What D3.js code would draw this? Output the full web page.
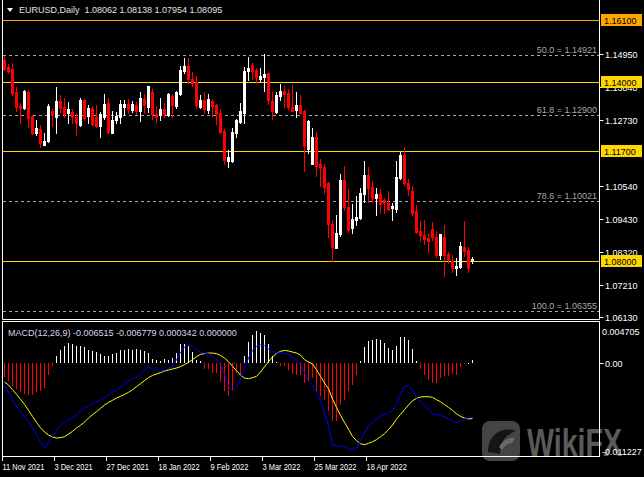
<!DOCTYPE html>
<html><head><meta charset="utf-8">
<script src="https://cdn.jsdelivr.net/npm/d3@7/dist/d3.min.js"></script>
<style>
html,body{margin:0;padding:0;background:#000;overflow:hidden}
svg{display:block}
text{font-family:"Liberation Sans",Arial,sans-serif}
</style></head><body>
<script>
// ---------- DATA ----------
const symbolTitle = "EURUSD,Daily  1.08062 1.08138 1.07954 1.08095";
const macdTitle = "MACD(12,26,9) -0.006515 -0.006779 0.000342 0.000000";

const open = [1.1475,1.1452,1.1445,1.1369,1.1322,1.1313,1.1369,1.1287,1.1231,1.1245,
1.1191,1.1205,1.1305,1.1285,1.1338,1.1318,1.1298,1.1302,1.1283,1.1257,
1.1341,1.1287,1.1315,1.1285,1.1254,1.1283,1.1332,1.1231,1.1274,1.1283,
1.1318,1.1328,1.1307,1.1324,1.1305,1.1343,1.1318,1.1369,1.1294,1.1291,
1.1311,1.1291,1.1354,1.1321,1.1361,1.1439,1.1455,1.1410,1.1402,1.1318,
1.1341,1.1307,1.1338,1.1324,1.1299,1.1238,1.1138,1.1138,1.1231,1.1268,
1.1298,1.1438,1.1458,1.1441,1.1411,1.1419,1.1430,1.1339,1.1302,1.1354,
1.1372,1.1363,1.1316,1.1307,1.1324,1.1305,1.1177,1.1126,1.1218,1.1126,
1.1117,1.1064,1.0926,1.0846,1.0893,1.1073,1.0981,1.0911,1.0939,1.0945,
1.1026,1.1090,1.1049,1.1012,1.1026,1.1006,1.0997,1.0978,1.0975,1.1079,
1.1157,1.1064,1.1036,1.0969,1.0902,1.0889,1.0878,1.0908,1.0883,1.0822,
1.0883,1.0824,1.0802,1.0779,1.0783,1.0847,1.0838,1.08062];
const high = [1.1488,1.1461,1.1464,1.1385,1.1330,1.1374,1.1371,1.1291,1.1274,1.1256,
1.1229,1.1326,1.1311,1.1384,1.1358,1.1347,1.1334,1.1311,1.1296,1.1347,
1.1344,1.1324,1.1321,1.1323,1.1302,1.1361,1.1349,1.1304,1.1302,1.1341,
1.1341,1.1343,1.1338,1.1334,1.1368,1.1361,1.1388,1.1377,1.1321,1.1347,
1.1330,1.1365,1.1361,1.1372,1.1455,1.1481,1.1481,1.1434,1.1421,1.1358,
1.1368,1.1361,1.1343,1.1327,1.1310,1.1244,1.1173,1.1246,1.1278,1.1330,
1.1450,1.1486,1.1464,1.1447,1.1448,1.1495,1.1432,1.1369,1.1369,1.1395,
1.1388,1.1377,1.1391,1.1369,1.1358,1.1307,1.1274,1.1247,1.1234,1.1142,
1.1126,1.1067,1.0938,1.0956,1.1093,1.1120,1.1042,1.0993,1.1019,1.1045,
1.1137,1.1118,1.1071,1.1045,1.1042,1.1012,1.1036,1.0997,1.1137,1.1168,
1.1182,1.1076,1.1053,1.0989,1.0937,1.0939,1.0892,1.0933,1.0902,1.0892,
1.0922,1.0833,1.0822,1.0812,1.0864,1.0936,1.0848,1.08138];
const low = [1.1441,1.1432,1.1358,1.1305,1.1263,1.1311,1.1249,1.1227,1.1224,1.1185,
1.1189,1.1201,1.1254,1.1231,1.1298,1.1285,1.1265,1.1263,1.1225,1.1254,
1.1274,1.1263,1.1257,1.1249,1.1218,1.1276,1.1231,1.1229,1.1263,1.1263,
1.1291,1.1298,1.1302,1.1294,1.1272,1.1298,1.1302,1.1276,1.1268,1.1274,
1.1283,1.1287,1.1283,1.1313,1.1358,1.1432,1.1397,1.1389,1.1313,1.1313,
1.1298,1.1298,1.1287,1.1261,1.1231,1.1126,1.1117,1.1134,1.1218,1.1265,
1.1265,1.1408,1.1410,1.1397,1.1406,1.1372,1.1328,1.1277,1.1298,1.1341,
1.1318,1.1310,1.1303,1.1285,1.1296,1.1104,1.1164,1.1125,1.1086,1.1053,
1.1028,1.0881,1.0803,1.0844,1.0885,1.0973,1.0900,1.0896,1.0922,1.0941,
1.1000,1.1000,1.1000,1.0956,1.0961,1.0963,1.0973,1.0939,1.0967,1.1075,
1.1056,1.1023,1.0956,1.0894,1.0869,1.0858,1.0833,1.0872,1.0814,1.0808,
1.0752,1.0794,1.0766,1.0755,1.0779,1.0818,1.0766,1.07954];
const close = [1.1444,1.1439,1.1365,1.1318,1.1314,1.1371,1.1280,1.1229,1.1247,1.1198,
1.1203,1.1321,1.1292,1.1338,1.1313,1.1294,1.1311,1.1283,1.1263,1.1341,
1.1281,1.1314,1.1261,1.1254,1.1294,1.1328,1.1234,1.1274,1.1287,1.1328,
1.1328,1.1312,1.1328,1.1305,1.1348,1.1324,1.1388,1.1294,1.1283,1.1311,
1.1294,1.1361,1.1324,1.1368,1.1441,1.1455,1.1410,1.1399,1.1324,1.1341,
1.1312,1.1343,1.1321,1.1296,1.1234,1.1140,1.1149,1.1235,1.1274,1.1304,
1.1438,1.1448,1.1438,1.1417,1.1421,1.1428,1.1341,1.1305,1.1358,1.1372,
1.1360,1.1316,1.1305,1.1324,1.1298,1.1187,1.1271,1.1218,1.1120,1.1117,
1.1051,1.0926,1.0850,1.0896,1.1073,1.0981,1.0905,1.0941,1.0948,1.1028,
1.1090,1.1045,1.1012,1.1026,1.0993,1.0995,1.0975,1.0986,1.1084,1.1157,
1.1062,1.1042,1.0961,1.0900,1.0889,1.0874,1.0870,1.0881,1.0822,1.0891,
1.0822,1.0807,1.0779,1.0786,1.0852,1.0836,1.0779,1.08095];

const macdMain = [-0.002676,-0.003608,-0.0045,-0.005311,-0.005959,-0.006527,-0.007135,-0.007946,-0.008757,-0.009689,
-0.010378,-0.009689,-0.008959,-0.00823,-0.007662,-0.007257,-0.007013,-0.00673,-0.006365,-0.005878,
-0.005473,-0.00523,-0.004986,-0.004743,-0.0045,-0.004257,-0.003892,-0.003608,-0.003324,-0.002959,
-0.002595,-0.00223,-0.001946,-0.001703,-0.001338,-0.000932,-0.000527,-0.00077,-0.000973,-0.001054,
-0.000932,-0.000689,-0.000446,0.000365,0.001257,0.001905,0.00223,0.002068,0.001581,0.001257,
0.001176,0.001095,0.000851,0.000446,-0.000243,-0.001459,-0.002878,-0.003405,-0.002959,-0.001986,
-0.00077,0.000568,0.0015,0.001986,0.002149,0.002068,0.001662,0.001338,0.001216,0.001176,
0.001135,0.001014,0.000689,0.000365,-0.000243,-0.001257,-0.00227,-0.002757,-0.003689,-0.004581,
-0.006122,-0.007743,-0.009973,-0.010175,-0.010094,-0.010175,-0.0105,-0.010581,-0.010378,-0.009446,
-0.008554,-0.007662,-0.007257,-0.006851,-0.006527,-0.006284,-0.006041,-0.005797,-0.005108,-0.00377,
-0.002878,-0.002838,-0.003284,-0.004216,-0.004824,-0.00523,-0.005635,-0.006203,-0.006365,-0.006324,
-0.006608,-0.006851,-0.007054,-0.007338,-0.007054,-0.006811,-0.006689,-0.006515];
const macdSignal = [-0.002351,-0.002716,-0.003284,-0.003851,-0.004459,-0.005068,-0.005797,-0.006527,-0.007257,-0.007905,
-0.008432,-0.008797,-0.009041,-0.009162,-0.009122,-0.009,-0.008676,-0.008351,-0.007946,-0.007622,
-0.007216,-0.00673,-0.006324,-0.005959,-0.005554,-0.005149,-0.004824,-0.004581,-0.004297,-0.004095,
-0.003851,-0.003608,-0.003284,-0.002919,-0.002554,-0.002189,-0.001824,-0.001541,-0.001378,-0.001216,
-0.001014,-0.000892,-0.00077,-0.000649,-0.000486,-0.000243,0.000041,0.000365,0.00073,0.001014,
0.001095,0.001176,0.001176,0.001095,0.000892,0.000568,0.000122,-0.000446,-0.000973,-0.0015,
-0.001865,-0.001946,-0.001824,-0.001662,-0.001135,-0.000486,0.000122,0.000689,0.001135,0.001378,
0.0015,0.001419,0.001297,0.001176,0.000932,0.000365,0.000081,-0.000162,-0.000851,-0.001662,
-0.002473,-0.003162,-0.004419,-0.005432,-0.006405,-0.007257,-0.008108,-0.008959,-0.009486,-0.009851,
-0.009973,-0.009811,-0.009608,-0.009365,-0.009,-0.008635,-0.008149,-0.007581,-0.006851,-0.006284,
-0.005716,-0.005149,-0.004622,-0.004338,-0.004176,-0.004135,-0.004135,-0.004216,-0.0045,-0.004743,
-0.005108,-0.005432,-0.005797,-0.006203,-0.006527,-0.00673,-0.006851,-0.006779];
const macdHist = [-0.00174,-0.00227,-0.0028,-0.0032,-0.00361,-0.00377,-0.00393,-0.00393,-0.00361,-0.00349,
-0.00308,-0.00146,-0.00036,0.00077,0.0015,0.00207,0.00239,0.00231,0.00207,0.00199,
0.00191,0.00158,0.00138,0.00126,0.00109,0.00085,0.00085,0.00109,0.00118,0.0015,
0.00158,0.00166,0.00158,0.00166,0.00158,0.00138,0.00118,0.00045,0.00036,0.00016,
0.00045,0.00036,0.00057,0.00118,0.00231,0.00231,0.00207,0.00126,0.00028,0.00016,
-0.00077,-0.00077,-0.00126,-0.00126,-0.00239,-0.00349,-0.00409,-0.00328,-0.00126,-0.00146,
0.00085,0.00247,0.00341,0.00381,0.00361,0.00341,0.00231,0.00077,0.00004,-0.00036,
-0.00045,-0.00085,-0.00134,-0.00146,-0.00146,-0.00247,-0.00239,-0.00186,-0.00349,-0.00409,
-0.0045,-0.00592,-0.00714,-0.00714,-0.00511,-0.0045,-0.00349,-0.00268,-0.00146,0.00016,
0.00191,0.00259,0.00272,0.00288,0.00272,0.00239,0.00178,0.00158,0.00207,0.00312,
0.00312,0.00272,0.00166,0.00016,-0.00077,-0.00146,-0.00215,-0.00247,-0.00247,-0.00186,
-0.00166,-0.00158,-0.00138,-0.00146,-0.00053,-0.00005,0.0,0.000342];

const priceTicks = [1.14950,1.13840,1.12730,1.10540,1.09430,1.08320,1.07210,1.06130];
const fibLevels = [["50.0",1.14921],["61.8",1.12900],["78.6",1.10021],["100.0",1.06355]];
const hLevels = [1.16100,1.14000,1.11700,1.08000];
const hColors = ["#ffa500","#ffd700","#ffd700","#ffd700"];
const dateLabels = ["11 Nov 2021","3 Dec 2021","27 Dec 2021","18 Jan 2022","9 Feb 2022","3 Mar 2022","25 Mar 2022","18 Apr 2022"];
const dateBars = [0,13,26,39,52,65,78,91];
const macdMax = 0.004705, macdMin = -0.011227;

// ---------- CHART ----------
const W = 644, H = 477;
const svg = d3.select("body").append("svg").attr("width",W).attr("height",H);
svg.append("rect").attr("width",W).attr("height",H).attr("fill","#000");

const axisX = 599.5;
const x = d3.scaleLinear().domain([0,117]).range([4.33,472.33]);
const y = d3.scaleLinear().domain([1.0613,1.1495]).range([317.3,54]);
const ym = d3.scaleLinear().domain([macdMin,macdMax]).range([455,324]);
const px = i => Math.round(x(i));

function squeeze(sel, k){
  sel.each(function(){
    const w = this.getComputedTextLength();
    d3.select(this).attr("textLength", (w*k).toFixed(1)).attr("lengthAdjust","spacingAndGlyphs");
  });
}

const main = svg.append("g");
// fib dashed lines
fibLevels.forEach(([lab,v])=>{
  const yy = Math.round(y(v))+0.5;
  main.append("line").attr("x1",3).attr("x2",axisX).attr("y1",yy).attr("y2",yy)
    .attr("stroke","#a8a8a8").attr("stroke-dasharray","3,3").attr("stroke-width",1);
  main.append("text").attr("x",597).attr("y",yy-3).attr("text-anchor","end")
    .attr("font-size",9).attr("fill","#a8a8a8").text(lab+" = "+v.toFixed(5));
});
// horizontal levels
hLevels.forEach((v,k)=>{
  const yy = Math.round(y(v))+0.5;
  main.append("line").attr("x1",3).attr("x2",axisX).attr("y1",yy).attr("y2",yy)
    .attr("stroke",hColors[k]).attr("stroke-width",1);
});
// candles
const idx = d3.range(open.length);
const cg = main.append("g");
idx.forEach(i=>{
  const bull = close[i] >= open[i];
  const col = bull ? "#ffffff" : "#ff0000";
  const cx = px(i);
  cg.append("line").attr("x1",cx+0.5).attr("x2",cx+0.5)
    .attr("y1",Math.round(y(high[i]))).attr("y2",Math.round(y(low[i]))+1)
    .attr("stroke",col).attr("stroke-width",1);
  const t = Math.round(y(Math.max(open[i],close[i])));
  const b = Math.round(y(Math.min(open[i],close[i])));
  cg.append("rect").attr("x",cx-1).attr("y",t).attr("width",3).attr("height",Math.max(1,b-t+1))
    .attr("fill",col);
});

// MACD histogram
const mg = svg.append("g");
const y0 = Math.round(ym(0));
idx.forEach(i=>{
  const v = macdHist[i];
  const yy = Math.round(ym(v));
  mg.append("rect").attr("x",px(i)).attr("width",1)
    .attr("y",Math.min(yy,y0)).attr("height",Math.max(1,Math.abs(yy-y0)))
    .attr("fill", v>=0 ? "#ffffff" : "#ff0000");
});
const lineGen = arr => d3.line().x((d,i)=>px(i)+0.5).y(d=>ym(d))(arr);
mg.append("path").attr("d",lineGen(macdSignal)).attr("fill","none").attr("stroke","#ffff00").attr("stroke-width",1);
mg.append("path").attr("d",lineGen(macdMain)).attr("fill","none").attr("stroke","#0000ff").attr("stroke-width",1);

// watermark (behind axis labels)
const wm = svg.append("g");
wm.append("rect").attr("x",482).attr("y",421).attr("width",38).attr("height",40).attr("rx",8).attr("fill","#444");
wm.append("path").attr("d","M488,452 C488,434 503,426 516,431 C507,434 500,441 500,454 Z").attr("fill","#151515");
wm.append("path").attr("d","M499,447 C503,440 509,437 515,438 L512,443 C508,443 504,446 502,450 Z").attr("fill","#6a6a6a");
const wt = wm.append("text").attr("x",527).attr("y",456).attr("font-size",38).attr("font-weight","bold").attr("fill","#5a5a5a").text("WikiFX");
wt.each(function(){ d3.select(this).attr("textLength",95).attr("lengthAdjust","spacingAndGlyphs"); });

// frames
svg.append("path").attr("d","M2.5,0 V319.5 H"+axisX+" V0").attr("fill","none").attr("stroke","#fff");
svg.append("rect").attr("x",2.5).attr("y",321.5).attr("width",axisX-2.5).attr("height",135)
  .attr("fill","none").attr("stroke","#fff");

// right price axis
priceTicks.forEach(v=>{
  const yy = Math.round(y(v))+0.5;
  svg.append("line").attr("x1",axisX).attr("x2",axisX+4).attr("y1",yy).attr("y2",yy).attr("stroke","#fff");
  svg.append("text").attr("x",605).attr("y",yy+3.5).attr("font-size",9).attr("fill","#ffffff").text(v.toFixed(5));
});
hLevels.forEach((v,k)=>{
  const yy = Math.round(y(v))+0.5;
  svg.append("rect").attr("x",601).attr("y",yy-6.5).attr("width",41).attr("height",12).attr("fill",hColors[k]);
  svg.append("text").attr("x",604).attr("y",yy+3.5).attr("font-size",9).attr("fill","#000").text(v.toFixed(5));
});
// MACD axis
svg.append("line").attr("x1",axisX).attr("x2",axisX+4).attr("y1",y0+0.5).attr("y2",y0+0.5).attr("stroke","#fff");
svg.append("text").attr("x",605).attr("y",y0+4).attr("font-size",9).attr("fill","#fff").text("0.00");
svg.append("text").attr("x",602).attr("y",ym(macdMax)+11).attr("font-size",9).attr("fill","#fff").text(macdMax.toFixed(6));
svg.append("text").attr("x",602).attr("y",ym(macdMin)-0.5).attr("font-size",9).attr("fill","#fff").text(macdMin.toFixed(6));

// date axis
dateBars.forEach((b,k)=>{
  const xx = px(b)-1.5;
  svg.append("line").attr("x1",xx).attr("x2",xx).attr("y1",457).attr("y2",461).attr("stroke","#fff");
  svg.append("text").attr("class","dlab").attr("x",xx).attr("y",470).attr("font-size",9).attr("fill","#fff").text(dateLabels[k]);
});
squeeze(svg.selectAll(".dlab"), 0.83);

// titles
svg.append("path").attr("d","M7,8 L13,8 L10,12 Z").attr("fill","#fff");
svg.append("text").attr("x",19).attr("y",13).attr("font-size",9).attr("fill","#e0e0e0").attr("xml:space","preserve").text(symbolTitle);
svg.append("text").attr("x",8).attr("y",335.5).attr("font-size",9).attr("fill","#d8d8e8").text(macdTitle);
</script>
</body></html>
